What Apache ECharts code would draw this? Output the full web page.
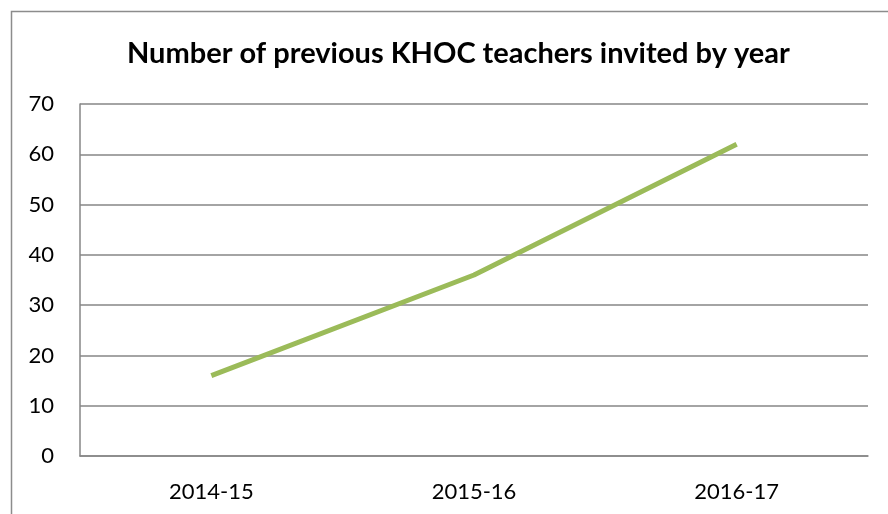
<!DOCTYPE html>
<html>
<head>
<meta charset="utf-8">
<script src="https://cdn.jsdelivr.net/npm/echarts@6/dist/echarts.min.js"></script>
<style>
    html, body { margin: 0; padding: 0; background: #fff; }
    #chart { width: 888px; height: 514px; }
</style>
</head>
<body>
<div id="chart"></div>
<script>
    // data
    const years = ['2014-15', '2015-16', '2016-17'];
    const invited = [16, 36, 62];
    const yTicks = { min: 0, max: 70, step: 10 };

    let myChart = echarts.init(document.getElementById('chart'));
    myChart.setOption({
        animation: false,
        title: {
            text: 'Number of previous KHOC teachers invited by year',
            left: 122,
            top: 34,
            textStyle: {
                fontFamily: 'Lato',
                fontWeight: 'bold',
                fontSize: 29,
                color: '#000'
            }
        },
        graphic: [{
            type: 'rect',
            shape: { x: 11.5, y: 11.5, width: 900, height: 600 },
            style: { fill: 'none', stroke: '#8c8c8c', lineWidth: 1.5 },
            silent: true
        }],
        grid: {
            left: 80,
            right: 20,
            top: 104,
            bottom: 58
        },
        xAxis: {
            type: 'category',
            data: years,
            boundaryGap: true,
            axisLine: { lineStyle: { color: '#868686', width: 1.5 } },
            axisTick: { show: false },
            axisLabel: {
                margin: 25,
                fontFamily: 'Lato',
                fontSize: 22,
                color: '#000'
            }
        },
        yAxis: {
            type: 'value',
            min: yTicks.min,
            max: yTicks.max,
            interval: yTicks.step,
            axisLine: { show: true, lineStyle: { color: '#868686', width: 1.5 } },
            axisTick: { show: false },
            splitLine: { lineStyle: { color: '#868686', width: 1.5 } },
            axisLabel: {
                margin: 26,
                fontFamily: 'Lato',
                fontSize: 22,
                color: '#000'
            }
        },
        series: [{
            type: 'line',
            data: invited,
            symbol: 'none',
            lineStyle: { color: '#9bbb59', width: 5 }
        }]
    });
</script>
</body>
</html>
